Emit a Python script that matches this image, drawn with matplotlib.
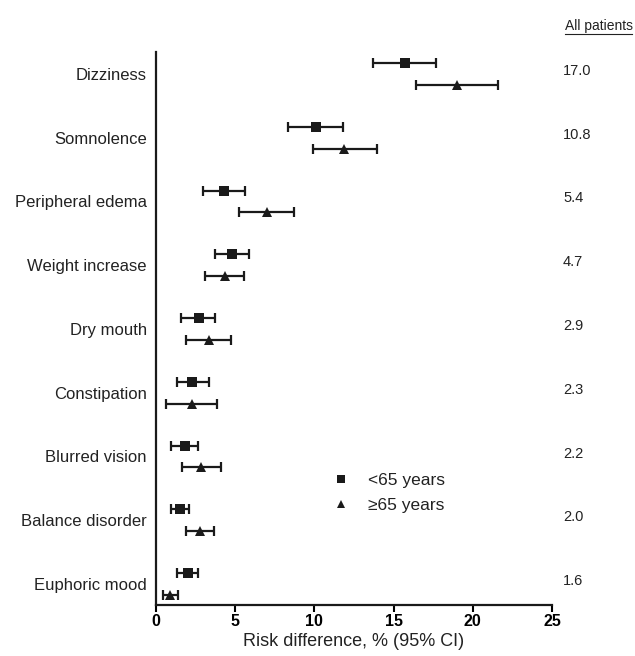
import matplotlib
matplotlib.use("Agg")
import matplotlib.pyplot as plt
from matplotlib.lines import Line2D
import numpy as np

plt.rcParams['font.family'] = ['Liberation Sans', 'DejaVu Sans']

# adverse events, top to bottom
events = ['Dizziness', 'Somnolence', 'Peripheral edema', 'Weight increase',
          'Dry mouth', 'Constipation', 'Blurred vision', 'Balance disorder',
          'Euphoric mood']
all_patients = ['17.0', '10.8', '5.4', '4.7', '2.9', '2.3', '2.2', '2.0', '1.6']

# <65 years: risk difference and 95% CI
young_rd = [15.7, 10.1, 4.3, 4.8, 2.7, 2.3, 1.8, 1.5, 2.0]
young_lo = [13.7, 8.35, 2.95, 3.7, 1.6, 1.3, 0.95, 0.95, 1.33]
young_hi = [17.7, 11.8, 5.65, 5.9, 3.75, 3.35, 2.68, 2.1, 2.67]

# >=65 years
old_rd = [19.0, 11.9, 7.0, 4.35, 3.35, 2.25, 2.85, 2.8, 0.9]
old_lo = [16.4, 9.9, 5.25, 3.1, 1.9, 0.63, 1.62, 1.9, 0.42]
old_hi = [21.6, 13.95, 8.7, 5.57, 4.73, 3.83, 4.1, 3.68, 1.4]

fig = plt.figure(figsize=(6.35, 6.56), dpi=100)
ax = fig.add_axes([156/635, 51/656, 396/635, 553/656])

y = np.arange(len(events))
off = 0.17
ink = '#1a1a1a'

for rd, lo, hi, dy, mk, ms in [(young_rd, young_lo, young_hi, -off, 's', 6.8),
                               (old_rd, old_lo, old_hi, off, '^', 6.5)]:
    rd = np.array(rd)
    err = [rd - np.array(lo), np.array(hi) - rd]
    ax.errorbar(rd, y + dy, xerr=err, fmt='none', ecolor=ink,
                elinewidth=1.6, capsize=3.3, capthick=1.6)
    ax.plot(rd, y + dy, mk, color=ink, ms=ms, mew=0, zorder=3)

ax.set_xlim(0, 25)
ax.set_ylim(8.33, -0.345)
ax.set_xticks([0, 5, 10, 15, 20, 25])
ax.set_xticklabels(['0', '5', '10', '15', '20', '25'], fontweight='bold', fontsize=11.5)
ax.set_yticks(y)
ax.set_yticklabels(events, fontsize=12, color='#222222')
ax.tick_params(axis='y', length=0, pad=6.5)
ax.tick_params(axis='x', length=5, width=1.5, pad=1.5)
ax.set_xlabel('Risk difference, % (95% CI)', fontsize=13, labelpad=3, color='#222222')

for s in ['top', 'right']:
    ax.spines[s].set_visible(False)
for s in ['left', 'bottom']:
    ax.spines[s].set_linewidth(1.6)
    ax.spines[s].set_color(ink)

for yi, v in zip(y, all_patients):
    ax.text(563/635, 1 - (74 + 63.75 * yi - 3) / 656, v, transform=fig.transFigure,
            fontsize=10.5, va='center', ha='left', color='#222222')
fig.text(565/635, 1 - 26/656, 'All patients', fontsize=10, va='center',
         ha='left', color='#222222')
fig.add_artist(Line2D([565/635, 632/635], [1 - 34/656, 1 - 34/656],
                      color='#222222', lw=0.8))

handles = [Line2D([], [], marker='s', color=ink, ls='none', ms=5.5, mew=0),
           Line2D([], [], marker='^', color=ink, ls='none', ms=6.0, mew=0)]
ax.legend(handles, ['<65 years', '\u226565 years'], frameon=False,
          loc='center left', bbox_to_anchor=(0.405, 0.203), fontsize=12.5,
          handlelength=1.0, handletextpad=1.05, labelspacing=0.55,
          labelcolor='#222222')

fig.savefig('out.png', dpi=100)
